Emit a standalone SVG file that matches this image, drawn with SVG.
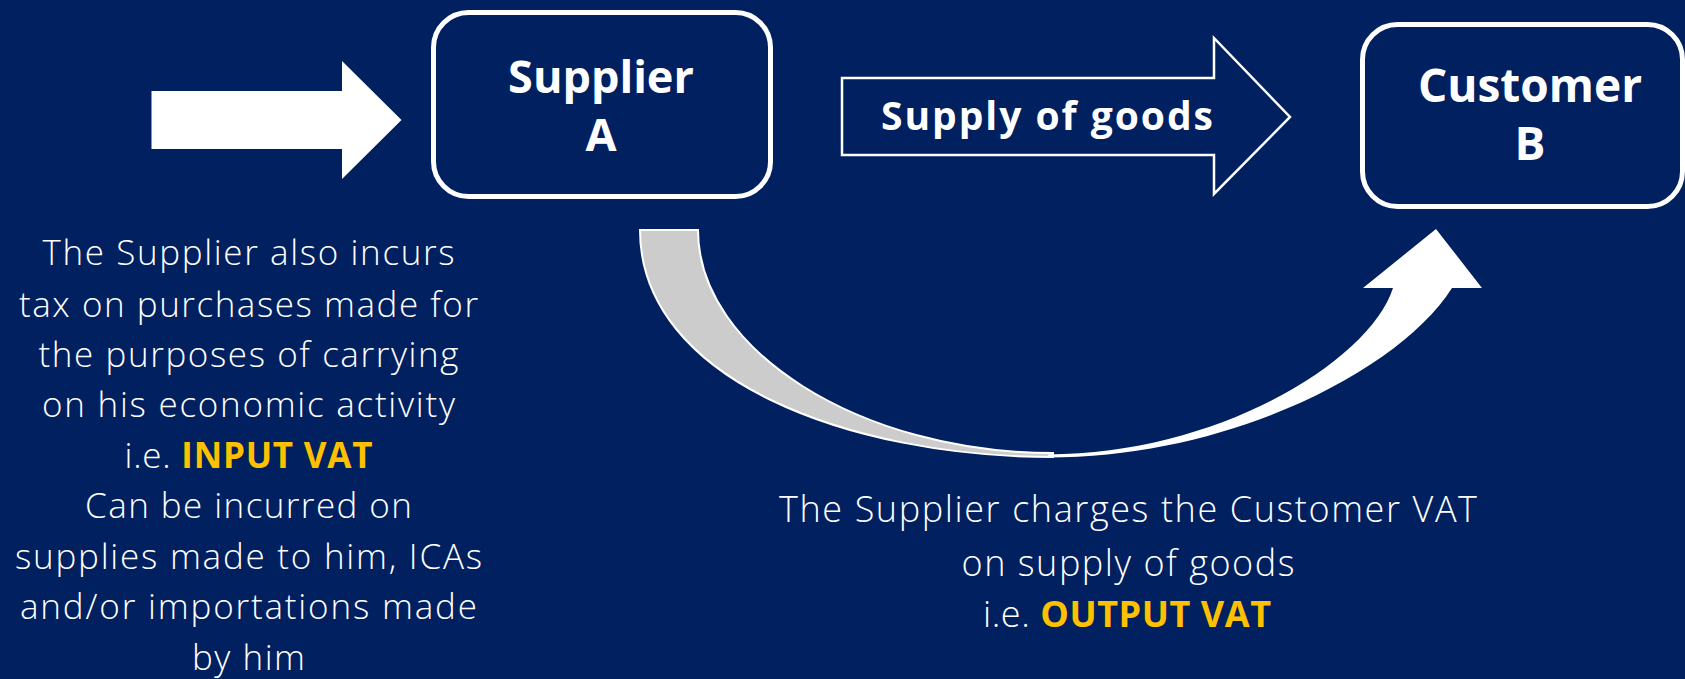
<svg xmlns="http://www.w3.org/2000/svg" width="1685" height="679" viewBox="0 0 1685 679">
<style>
.box{fill:none;stroke:#ffffff;stroke-width:5}
.lbl{font-family:"Open Sans","Liberation Sans",sans-serif;font-weight:700;fill:#ffffff;text-anchor:middle}
.body{font-family:"Open Sans","Liberation Sans",sans-serif;font-weight:300;fill:#ffffff;text-anchor:middle}
.hl{font-weight:700;fill:#FFC000}
</style>
<rect x="0" y="0" width="1685" height="679" fill="#002060"/>
<g id="connectors">
  <path id="input-arrow" d="M151.5,91 L342,91 L342,61 L401.5,120 L342,179 L342,149 L151.5,149 Z" fill="#ffffff"/>
  <g id="supply-arrow">
    <path d="M842,78 L1214,78 L1214,38 L1290,117 L1214,194 L1214,155 L842,155 Z" fill="none" stroke="#ffffff" stroke-width="2.5"/>
    <text class="lbl" x="1047" y="130" font-size="39" textLength="332" lengthAdjust="spacing">Supply of goods</text>
  </g>
  <g id="curved-arrow">
    <path d="M640,230 L698,230 C698,350 860,453 1053,453 L1053,457 C850,457 640,380 640,230 Z" fill="#cccccc" stroke="#ffffff" stroke-width="2"/>
    <path d="M1048,457.5 C1230,457.5 1400,370 1452,288 L1482,288 L1436,229 L1363,288 L1393,288 C1370,360 1220,454 1048,454.5 Z" fill="#ffffff"/>
  </g>
</g>
<g id="supplier-a">
  <rect class="box" x="433.5" y="12.5" width="337" height="184" rx="35"/>
  <text class="lbl" x="601" y="93" font-size="45">Supplier</text>
  <text class="lbl" x="601" y="151" font-size="45">A</text>
</g>
<g id="customer-b">
  <rect class="box" x="1362.5" y="24.5" width="320" height="182" rx="35"/>
  <text class="lbl" x="1530" y="102" font-size="46">Customer</text>
  <text class="lbl" x="1530" y="160" font-size="46">B</text>
</g>
<g id="input-text" font-size="35">
  <text class="body" x="248.5" y="265" textLength="412" lengthAdjust="spacing">The Supplier also incurs</text>
  <text class="body" x="248.5" y="316.5" textLength="459" lengthAdjust="spacing">tax on purchases made for</text>
  <text class="body" x="248.5" y="367" textLength="420" lengthAdjust="spacing">the purposes of carrying</text>
  <text class="body" x="248.5" y="417" textLength="413" lengthAdjust="spacing">on his economic activity</text>
  <text class="body" x="248.5" y="468" textLength="248" lengthAdjust="spacing">i.e. <tspan class="hl">INPUT VAT</tspan></text>
  <text class="body" x="248.5" y="518" textLength="327" lengthAdjust="spacing">Can be incurred on</text>
  <text class="body" x="248.5" y="569" textLength="467" lengthAdjust="spacing">supplies made to him, ICAs</text>
  <text class="body" x="248.5" y="619" textLength="457" lengthAdjust="spacing">and/or importations made</text>
  <text class="body" x="248.5" y="670" textLength="113" lengthAdjust="spacing">by him</text>
</g>
<g id="output-text" font-size="36">
  <text class="body" x="1128" y="521.5" textLength="698" lengthAdjust="spacing">The Supplier charges the Customer VAT</text>
  <text class="body" x="1128" y="576" textLength="333" lengthAdjust="spacing">on supply of goods</text>
  <text class="body" x="1127" y="626.5" textLength="288" lengthAdjust="spacing">i.e. <tspan class="hl">OUTPUT VAT</tspan></text>
</g>
</svg>
